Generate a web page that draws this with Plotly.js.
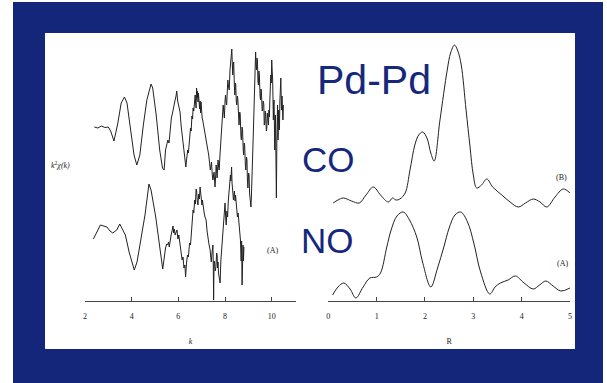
<!DOCTYPE html>
<html><head><meta charset="utf-8">
<script src="https://cdn.plot.ly/plotly-3.0.1.min.js"></script>
<style>html,body{margin:0;padding:0;background:#fff;}#chart{width:607px;height:383px;}</style>
</head><body><div id="chart"></div>
<script>
// ---- k-space EXAFS, k^2 chi(k) (arbitrary units, offset) ----
const kB = [2.40,2.55,2.70,2.85,3.00,3.10,3.24,3.40,3.55,3.69,3.80,3.95,4.10,4.22,4.35,4.50,4.65,4.83,4.90,5.05,5.20,5.32,5.39,5.45,5.50,5.55,5.60,5.65,5.70,5.75,5.80,5.86,5.90,5.93,5.97,6.00,6.04,6.07,6.12,6.20,6.28,6.32,6.36,6.40,6.43,6.47,6.52,6.55,6.58,6.61,6.63,6.66,6.68,6.70,6.72,6.74,6.76,6.78,6.80,6.82,6.84,6.86,6.88,6.91,6.93,6.95,6.97,7.00,7.02,7.05,7.08,7.15,7.22,7.30,7.37,7.42,7.45,7.48,7.53,7.57,7.60,7.62,7.66,7.70,7.73,7.75,7.78,7.80,7.86,7.92,7.95,7.97,8.00,8.02,8.05,8.07,8.10,8.12,8.15,8.18,8.21,8.23,8.26,8.29,8.31,8.33,8.35,8.37,8.40,8.42,8.44,8.46,8.48,8.50,8.53,8.55,8.58,8.60,8.63,8.65,8.68,8.70,8.73,8.75,8.78,8.80,8.82,8.84,8.87,8.89,8.92,8.94,8.96,8.98,9.01,9.03,9.05,9.07,9.09,9.11,9.13,9.15,9.19,9.24,9.28,9.31,9.33,9.35,9.37,9.39,9.41,9.43,9.45,9.47,9.50,9.52,9.54,9.56,9.59,9.61,9.63,9.66,9.68,9.70,9.72,9.74,9.77,9.79,9.81,9.84,9.86,9.88,9.90,9.92,9.94,9.96,9.98,10.00,10.02,10.04,10.05,10.07,10.08,10.10,10.11,10.13,10.14,10.16,10.18,10.20,10.22,10.23,10.25,10.26,10.27,10.29,10.30,10.32,10.33,10.35,10.36,10.38,10.39,10.41,10.42,10.44,10.45,10.47,10.48,10.50];
const chiB = [174,173,175,173.5,174,170,160,177,198,204,198,171,146,136,146,176,201,217,213,186,151,133,131,151,156,161,158,172,183,188,196,201,205,210,200,196,193,189,175,156,141,134,143,151,148,160,173,170,185,182,193,190,201,196,206,198,193,213,203,210,199,208,202,192,200,188,199,186,183,180,176,166,156,146,131,139,127,121,129,114,126,136,123,141,133,131,145,151,176,196,188,183,200,206,198,196,212,221,214,211,230,236,244,252,238,226,236,239,215,206,218,216,200,196,205,201,185,176,189,186,165,161,174,171,150,146,158,156,136,131,144,141,120,113,128,126,108,101,97,94,105,116,151,191,226,249,236,231,243,239,220,216,230,226,205,201,212,209,190,191,200,197,176,178,190,186,170,173,188,183,176,191,184,201,212,226,218,241,230,221,200,181,195,201,175,151,170,186,150,103,160,176,196,178,161,185,191,172,171,200,206,215,223,198,191,205,201,185,181,196];

const kA = [2.36,2.66,2.94,3.07,3.19,3.36,3.49,3.59,3.73,3.89,4.11,4.23,4.40,4.57,4.74,4.83,5.03,5.17,5.33,5.45,5.50,5.54,5.58,5.61,5.65,5.69,5.73,5.77,5.80,5.83,5.86,5.90,5.94,5.98,6.02,6.06,6.10,6.16,6.20,6.24,6.28,6.31,6.35,6.39,6.43,6.48,6.52,6.56,6.60,6.63,6.66,6.70,6.73,6.76,6.78,6.81,6.84,6.87,6.90,6.93,6.95,6.98,7.01,7.03,7.06,7.10,7.14,7.19,7.23,7.27,7.31,7.36,7.38,7.41,7.44,7.48,7.50,7.51,7.53,7.55,7.58,7.61,7.64,7.66,7.68,7.70,7.72,7.74,7.77,7.79,7.82,7.85,7.88,7.90,7.93,7.95,7.98,8.00,8.03,8.05,8.08,8.11,8.14,8.17,8.20,8.23,8.25,8.28,8.30,8.32,8.34,8.36,8.40,8.43,8.45,8.49,8.53,8.56,8.60,8.63,8.66,8.69,8.71,8.73,8.75,8.77,8.79,8.81];
const chiA = [62,76,74,70,68,71,77,73,66,49,31,39,61,86,117,111,84,61,32,53,57,56,59,54,62,66,70,75,68,72,66,70,71,62,66,59,52,41,44,33,36,24,38,46,44,58,56,73,80,91,88,101,97,112,111,100,96,107,102,114,110,104,96,101,92,89,84,81,70,61,57,51,44,39,48,56,30,1,40,39,30,34,48,46,33,39,28,26,20,18,40,51,62,71,80,86,92,98,82,76,90,84,100,111,118,126,120,134,118,111,105,101,110,100,106,90,84,88,76,68,61,40,60,16,45,56,40,54];

// ---- R-space Fourier transform magnitude (arbitrary units, offset) ----
const rB = [0.10,0.20,0.31,0.48,0.64,0.78,0.93,1.08,1.24,1.33,1.40,1.48,1.59,1.69,1.79,1.87,1.95,2.04,2.12,2.19,2.31,2.46,2.53,2.61,2.68,2.75,2.85,2.93,3.00,3.07,3.17,3.28,3.40,3.59,3.76,3.93,4.08,4.24,4.38,4.52,4.69,4.86,5.00];
const ftB = [98,101,103,100,98,106,114,106,99,103,101,102,108,131,156,166,169,163,148,140,181,231,248,256,250,236,191,155,126,113,116,122,114,106,99,94,98,102,99,94,104,112,108];

const rA = [0.09,0.20,0.32,0.45,0.57,0.72,0.86,1.00,1.08,1.21,1.30,1.42,1.55,1.68,1.83,1.95,2.12,2.26,2.39,2.50,2.62,2.74,2.88,3.01,3.15,3.34,3.45,3.56,3.72,3.87,4.05,4.24,4.37,4.50,4.65,4.81,5.00];
const ftA = [6,14,18,12,3,14,23,24,28,54,71,85,89,81,64,39,14,33,54,73,86,89,79,58,29,7,14,18,21,25,18,12,16,20,15,10,13];

const kTicks = [2,4,6,8,10];
const rTicks = [0,1,2,3,4,5];

const navy = '#14267a';
const txt = '#15287d';
const ink = '#222222';
const W = 607, H = 383;
const px = x => x / W;
const py = y => 1 - y / H;

const serif = 'Liberation Serif, Times New Roman, serif';
const sans = 'Liberation Sans, Arial, sans-serif';

const traces = [
  {x: kB, y: chiB, xaxis: 'x', yaxis: 'y', mode: 'lines', line: {color: ink, width: 1}, hoverinfo: 'skip'},
  {x: kA, y: chiA, xaxis: 'x', yaxis: 'y', mode: 'lines', line: {color: ink, width: 1}, hoverinfo: 'skip'},
  {x: rB, y: ftB, xaxis: 'x2', yaxis: 'y2', mode: 'lines', line: {color: ink, width: 1, shape: 'spline', smoothing: 1}, hoverinfo: 'skip'},
  {x: rA, y: ftA, xaxis: 'x2', yaxis: 'y2', mode: 'lines', line: {color: ink, width: 1, shape: 'spline', smoothing: 1}, hoverinfo: 'skip'}
];

const axBase = {
  color: '#222',
  showline: true, linecolor: '#444', linewidth: 1, showgrid: false, zeroline: false,
  ticks: 'inside', ticklen: 4, tickcolor: '#444', tickwidth: 1,
  tickfont: {family: serif, size: 8, color: '#222'}, ticklabelstandoff: 7,
  fixedrange: true
};
const yBase = {showline: false, showgrid: false, zeroline: false, showticklabels: false, ticks: '', range: [0, 268], domain: [py(301), py(33)], fixedrange: true};

const layout = {
  width: W, height: H,
  margin: {l: 0, r: 0, t: 0, b: 0, pad: 0},
  paper_bgcolor: '#ffffff', plot_bgcolor: 'rgba(0,0,0,0)',
  showlegend: false,
  xaxis: Object.assign({}, axBase, {domain: [px(85), px(296)], range: [2, 11.04], tickvals: kTicks, anchor: 'y',
    title: {text: 'k', font: {family: serif, size: 8, color: '#222', style: 'italic'}, standoff: 18}}),
  yaxis: Object.assign({}, yBase, {anchor: 'x'}),
  xaxis2: Object.assign({}, axBase, {domain: [px(328.3), px(570)], range: [0, 5], tickvals: rTicks, anchor: 'y2',
    title: {text: 'R', font: {family: serif, size: 8, color: '#222'}, standoff: 18}}),
  yaxis2: Object.assign({}, yBase, {anchor: 'x2'}),
  shapes: [
    {type: 'rect', xref: 'paper', yref: 'paper', x0: px(13), x1: px(603), y0: 0, y1: py(2), fillcolor: navy, line: {width: 0}, layer: 'below'},
    {type: 'rect', xref: 'paper', yref: 'paper', x0: px(45), x1: px(575), y0: py(349), y1: py(33), fillcolor: '#ffffff', line: {width: 0}, layer: 'below'}
  ],
  annotations: [
    {text: 'Pd-Pd', xref: 'paper', yref: 'paper', x: px(374), y: py(80), xanchor: 'center', yanchor: 'middle', showarrow: false, font: {family: sans, size: 41, color: txt}},
    {text: 'CO', xref: 'paper', yref: 'paper', x: px(329), y: py(159), xanchor: 'center', yanchor: 'middle', showarrow: false, font: {family: sans, size: 35, color: txt}},
    {text: 'NO', xref: 'paper', yref: 'paper', x: px(327.5), y: py(240), xanchor: 'center', yanchor: 'middle', showarrow: false, font: {family: sans, size: 35, color: txt}},
    {text: '<i>k</i><sup>2</sup><i>χ(k)</i>', xref: 'paper', yref: 'paper', x: px(49), y: py(165), xanchor: 'left', yanchor: 'middle', showarrow: false, font: {family: serif, size: 8, color: '#222'}},
    {text: '(A)', xref: 'paper', yref: 'paper', x: px(272), y: py(250), xanchor: 'center', yanchor: 'middle', showarrow: false, font: {family: serif, size: 8, color: '#222'}},
    {text: '(B)', xref: 'paper', yref: 'paper', x: px(561), y: py(177), xanchor: 'center', yanchor: 'middle', showarrow: false, font: {family: serif, size: 8, color: '#222'}},
    {text: '(A)', xref: 'paper', yref: 'paper', x: px(562), y: py(263), xanchor: 'center', yanchor: 'middle', showarrow: false, font: {family: serif, size: 8, color: '#222'}}
  ]
};

Plotly.newPlot('chart', traces, layout, {displayModeBar: false, staticPlot: true});
</script>
</body></html>
